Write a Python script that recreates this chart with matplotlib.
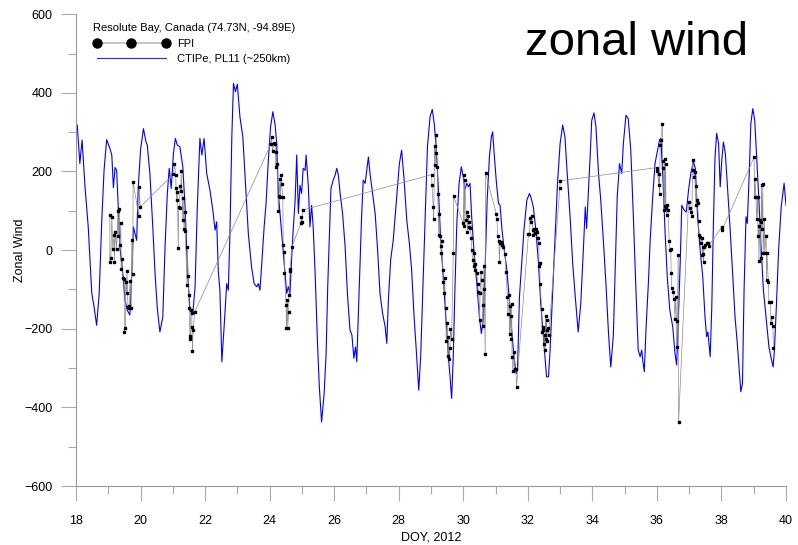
import numpy as np
import matplotlib
matplotlib.use("Agg")
import matplotlib.pyplot as plt
from matplotlib.lines import Line2D

plt.rcParams['font.family'] = ['Liberation Sans', 'DejaVu Sans']

# CTIPe model, PL11 (~250km): DOY and zonal wind
ctipe_doy = [
    18.04, 18.12, 18.19, 18.28, 18.38, 18.49, 18.56, 18.64, 18.72, 18.80, 18.87, 18.95,
    19.05, 19.11, 19.16, 19.21, 19.26, 19.31, 19.36, 19.45, 19.52, 19.59, 19.67, 19.73,
    19.78, 19.83, 19.88, 19.93, 20.00, 20.09, 20.17, 20.21, 20.29, 20.38, 20.45, 20.52,
    20.60, 20.69, 20.76, 20.83, 20.89, 20.95, 21.02, 21.08, 21.14, 21.22, 21.31, 21.38,
    21.45, 21.53, 21.62, 21.69, 21.76, 21.84, 21.90, 21.97, 22.05, 22.15, 22.24, 22.31,
    22.36, 22.41, 22.46, 22.52, 22.59, 22.67, 22.72, 22.77, 22.83, 22.88, 22.94, 23.00,
    23.08, 23.17, 23.27, 23.34, 23.44, 23.52, 23.60, 23.65, 23.70, 23.75, 23.83, 23.89,
    23.96, 24.03, 24.10, 24.17, 24.22, 24.27, 24.34, 24.41, 24.48, 24.53, 24.58, 24.63,
    24.68, 24.73, 24.79, 24.84, 24.89, 24.94, 24.99, 25.04, 25.10, 25.13, 25.20, 25.25,
    25.30, 25.35, 25.41, 25.48, 25.54, 25.61, 25.69, 25.75, 25.80, 25.85, 25.90, 25.97,
    26.03, 26.08, 26.13, 26.18, 26.26, 26.34, 26.41, 26.49, 26.55, 26.61, 26.66, 26.70,
    26.75, 26.80, 26.85, 26.90, 26.96, 27.01, 27.06, 27.11, 27.19, 27.27, 27.34, 27.42,
    27.50, 27.58, 27.63, 27.68, 27.75, 27.83, 27.92, 28.02, 28.09, 28.16, 28.25, 28.33,
    28.40, 28.47, 28.56, 28.62, 28.68, 28.74, 28.81, 28.89, 28.97, 29.04, 29.10, 29.16,
    29.23, 29.30, 29.38, 29.47, 29.54, 29.59, 29.64, 29.69, 29.74, 29.80, 29.87, 29.94,
    30.00, 30.05, 30.11, 30.16, 30.21, 30.26, 30.33, 30.42, 30.50, 30.56, 30.62, 30.68,
    30.74, 30.81, 30.87, 30.91, 30.95, 31.02, 31.09, 31.14, 31.20, 31.26, 31.35, 31.43,
    31.50, 31.57, 31.64, 31.68, 31.74, 31.81, 31.88, 31.97, 32.05, 32.09, 32.17, 32.25,
    32.33, 32.40, 32.48, 32.53, 32.58, 32.64, 32.69, 32.77, 32.84, 32.92, 33.00, 33.08,
    33.15, 33.22, 33.31, 33.39, 33.47, 33.56, 33.64, 33.72, 33.78, 33.82, 33.87, 33.93,
    33.98, 34.05, 34.11, 34.19, 34.26, 34.34, 34.42, 34.50, 34.57, 34.65, 34.70, 34.77,
    34.84, 34.91, 34.96, 35.04, 35.11, 35.19, 35.27, 35.35, 35.42, 35.48, 35.53, 35.56,
    35.61, 35.66, 35.74, 35.79, 35.87, 35.94, 36.01, 36.08, 36.12, 36.18, 36.25, 36.32,
    36.40, 36.49, 36.56, 36.61, 36.66, 36.72, 36.77, 36.84, 36.91, 36.98, 37.05, 37.13,
    37.19, 37.26, 37.34, 37.42, 37.49, 37.54, 37.58, 37.65, 37.70, 37.75, 37.80, 37.85,
    37.91, 37.96, 38.01, 38.06, 38.12, 38.19, 38.27, 38.35, 38.42, 38.49, 38.55, 38.60,
    38.65, 38.70, 38.76, 38.80, 38.86, 38.91, 38.97, 39.03, 39.09, 39.16, 39.22, 39.30,
    39.39, 39.47, 39.53, 39.60, 39.64, 39.70, 39.77, 39.85, 39.94, 40.00,
]
ctipe_wind = [
    318, 220, 280, 161, 59, -110, -144, -191, -110, 76, 203, 281,
    259, 242, 159, 210, 203, 110, 8, -59, -127, -153, -165, -59,
    59, 42, 25, 161, 254, 309, 275, 267, 195, 59, -59, -148,
    -208, -170, 8, 144, 208, 157, 246, 284, 267, 263, 212, 110,
    -42, -153, -161, -93, 110, 284, 242, 284, 195, 153, 102, 51,
    72, -55, -102, -284, -195, -85, -102, 42, 292, 424, 403, 422,
    339, 288, 144, 42, -42, -85, -93, -85, -102, -42, 59, 119,
    229, 314, 352, 318, 271, 144, 76, 8, -59, -110, -93, -110,
    -25, 51, 127, 242, 93, 165, 144, 208, 203, 242, 161, 59,
    114, 59, -59, -229, -348, -437, -364, -263, -93, 34, 157, 178,
    191, 208, 191, 148, 93, 8, -110, -203, -216, -275, -246, -284,
    -161, -42, 85, 178, 170, 203, 237, 195, 144, 93, 8, -110,
    -161, -195, -237, -127, -25, 25, 119, 220, 254, 186, 76, 17,
    -50, -161, -275, -356, -271, -119, 59, 263, 339, 358, 322, 263,
    153, 25, -68, -186, -271, -322, -377, -271, -102, 68, 170, 212,
    186, 153, 170, 161, 170, 85, 0, -85, -170, -212, -178, -34,
    127, 237, 288, 301, 254, 178, 119, 114, 51, 8, -51, -127,
    -203, -271, -314, -305, -119, -34, 51, 127, 144, 136, 110, 51,
    -34, -136, -220, -271, -322, -322, -254, -102, 25, 170, 271, 318,
    288, 195, 85, -34, -119, -208, -136, 0, 110, 55, 136, 237,
    330, 349, 314, 195, 127, 25, -85, -212, -297, -216, -68, 136,
    220, 195, 271, 343, 335, 254, 85, -102, -254, -271, -254, -280,
    -309, -203, -76, 25, 136, 220, 250, 280, 284, 195, 51, -68,
    -153, -195, -263, -292, -186, -34, 114, 102, 97, 153, 195, 225,
    208, 85, 0, -68, -170, -220, -208, -271, -144, 68, 237, 297,
    271, 161, 229, 275, 246, 153, 51, -68, -170, -237, -305, -360,
    -339, -102, 85, 68, 195, 322, 360, 330, 237, 127, 17, -102,
    -178, -246, -271, -297, -254, -144, 0, 110, 170, 114,
]

# FPI observations
fpi_doy = [
    19.05, 19.11, 19.14, 19.05, 19.08, 19.18, 19.19, 19.22, 19.26, 19.31, 19.30, 19.34,
    19.36, 19.39, 19.44, 19.40, 19.45, 19.49, 19.54, 19.58, 19.57, 19.61, 19.63, 19.67,
    19.65, 19.71, 19.50, 19.53, 19.73, 19.76, 19.77, 19.96, 19.95, 19.99,
    21.05, 21.02, 21.09, 21.10, 21.14, 21.12, 21.26, 21.22, 21.25, 21.18, 21.21, 21.32,
    21.31, 21.37, 21.35, 21.39, 21.17, 21.45, 21.48, 21.44, 21.50, 21.51, 21.56, 21.59,
    21.68, 21.53, 21.54, 21.59, 21.63, 21.61,
    24.06, 24.04, 24.09, 24.14, 24.17, 24.20, 24.23, 24.19, 24.36, 24.32, 24.37, 24.29,
    24.33, 24.41, 24.27, 24.42, 24.45, 24.46, 24.63, 24.64, 24.68, 24.51, 24.55, 24.60,
    24.59, 24.52, 24.56, 24.97, 25.00, 24.98, 25.03,
    29.02, 29.03, 29.07, 29.08, 29.16, 29.12, 29.17, 29.13, 29.20, 29.21, 29.25, 29.24,
    29.28, 29.30, 29.32, 29.33, 29.36, 29.42, 29.38, 29.41, 29.46, 29.47, 29.51, 29.54,
    29.52, 29.57, 29.60, 29.59, 29.64, 29.69, 29.70,
    30.00, 30.03, 30.02, 30.05, 30.11, 30.15, 30.09, 30.17, 30.13, 30.18, 30.21, 30.25,
    30.26, 30.29, 30.33, 30.32, 30.37, 30.36, 30.42, 30.45, 30.55, 30.57, 30.47, 30.52,
    30.64, 30.65, 30.60, 30.51, 30.61, 30.68, 30.69,
    31.02, 31.04, 31.07, 31.10, 31.12, 31.14, 31.16, 31.19, 31.23, 31.30, 31.32, 31.37,
    31.38, 31.43, 31.45, 31.47, 31.44, 31.48, 31.50, 31.51, 31.54, 31.58, 31.60, 31.63,
    31.65,
    32.02, 32.05, 32.07, 32.12, 32.09, 32.15, 32.19, 32.22, 32.17, 32.25, 32.29, 32.33,
    32.34, 32.37, 32.35, 32.38, 32.43, 32.48, 32.46, 32.44, 32.52, 32.50, 32.55, 32.58,
    32.60, 32.57, 32.59, 32.64, 32.65, 32.53, 33.00, 32.99,
    35.99, 36.01, 36.06, 36.08, 36.07, 36.10, 36.12, 36.17, 36.18, 36.24, 36.27, 36.20,
    36.25, 36.22, 36.28, 36.32, 36.34, 36.30, 36.38, 36.40, 36.43, 36.44, 36.46, 36.50,
    36.53, 36.58, 36.56, 36.61, 36.62, 36.66, 36.67,
    36.98, 37.03, 37.06, 37.08, 37.11, 37.13, 37.17, 37.16, 37.23, 37.21, 37.26, 37.22,
    37.29, 37.30, 37.34, 37.36, 37.40, 37.42, 37.44, 37.46, 37.41, 37.45, 37.49, 37.54,
    37.57, 37.60, 38.01, 38.02,
    39.01, 39.04, 39.03, 39.07, 39.12, 39.09, 39.13, 39.15, 39.18, 39.24, 39.28, 39.23,
    39.26, 39.16, 39.21, 39.29, 39.33, 39.38, 39.34, 39.41, 39.40, 39.45, 39.47, 39.52,
    39.55, 39.53, 39.59, 39.61,
]
fpi_wind = [
    89, 85, 4, -30, -21, 38, -31, 47, 4, 36, 99, 104,
    14, 68, -23, -49, -70, -73, -80, -53, -108, -144, -142, -79,
    -148, -147, -209, -197, 27, -61, 174, 160, 86, 110,
    219, 193, 192, 158, 148, 127, 201, 163, 151, 110, 108, 132,
    77, 97, 53, 49, 5, 8, -66, -88, -114, -148, -153, -161,
    -157, -219, -227, -195, -202, -257,
    288, 270, 252, 273, 270, 250, 220, 212, 192, 180, 168, 137,
    136, 134, 99, 13, -5, -59, -49, -52, 7, -140, -127, -113,
    -158, -198, -199, 68, 72, 85, 102,
    192, 165, 110, 78, 294, 264, 247, 216, 212, 144, 92, 38,
    37, 10, -7, 24, -51, -72, -81, -110, -146, -231, -186, -220,
    -270, -278, -200, -248, -225, -8, 137,
    68, 62, 191, 178, 97, 88, 76, 72, 47, 59, 57, 32,
    0, -25, -8, -41, -36, -51, -58, -85, -55, -76, -106, -108,
    -41, -100, -140, -178, -192, -264, 197,
    93, 80, 36, 24, -30, 17, 21, 13, 8, -10, -55, -119,
    -163, -114, -142, -168, -213, -225, -136, -271, -307, -259, -303, -301,
    -348,
    42, 40, 82, 86, 72, 51, 53, 44, 38, 53, 45, 30,
    17, -32, -40, -87, -149, -195, -203, -209, -216, -239, -168, -178,
    -202, -225, -231, -197, -215, -253, 176, 158,
    210, 202, 165, 142, 193, 267, 280, 322, 227, 233, 220, 208,
    112, 102, 106, 114, 103, 89, 24, 0, 4, -58, -95, -106,
    -125, -119, -176, -180, -247, -12, -438,
    123, 106, 97, 86, 229, 203, 199, 185, 127, 114, 119, 163,
    75, 38, 34, 19, 30, 8, -10, 7, -13, -30, 13, 17,
    19, 10, 59, 51,
    236, 182, 136, 134, 134, 80, 36, 61, 76, 165, 168, 72,
    53, -27, -21, -8, 80, 36, -7, -8, -75, -80, -131, -131,
    -170, -186, -193, -248,
]

order = np.argsort(fpi_doy, kind='stable')
fpi_x = np.asarray(fpi_doy)[order]
fpi_y = np.asarray(fpi_wind)[order]

fig = plt.figure(figsize=(7.98, 5.45), dpi=100)
ax = fig.add_axes([0.0952, 0.108, 0.8898, 0.866])

ax.plot(ctipe_doy, ctipe_wind, color='#0000ff', lw=0.8, zorder=2)
ax.plot(fpi_x, fpi_y, color='#8c8c8c', lw=0.5, zorder=3)
ax.plot(fpi_x, fpi_y, ls='none', marker='s', ms=1.6, color='black', zorder=4)

ax.set_xlim(18, 40)
ax.set_ylim(-600, 600)
ax.set_xticks(np.arange(18, 41, 2))
ax.set_xticks(np.arange(19, 40, 2), minor=True)
ax.set_yticks(np.arange(-600, 601, 200))
ax.set_yticks(np.arange(-500, 501, 200), minor=True)

for side in ('top', 'right'):
    ax.spines[side].set_visible(False)
for side in ('left', 'bottom'):
    ax.spines[side].set_color('#999999')
    ax.spines[side].set_linewidth(0.8)
ax.tick_params(which='major', length=11, width=0.8, color='#aaaaaa', labelsize=9)
ax.tick_params(which='minor', length=6, width=0.8, color='#aaaaaa')
ax.tick_params(axis='x', which='major', pad=10)
ax.tick_params(axis='y', which='major', pad=6)

ax.set_xlabel('DOY, 2012', fontsize=9, labelpad=3)
ax.set_ylabel('Zonal Wind', fontsize=9)
ax.yaxis.set_label_coords(-0.0705, 0.5)

ax.text(0.946, 0.938, 'zonal wind', transform=ax.transAxes, fontsize=34,
        ha='right', va='center')

handles = [
    Line2D([], [], color='#bbbbbb', lw=1.2, marker='o', ms=6.5,
           markerfacecolor='black', markeredgecolor='black'),
    Line2D([], [], color='#3333ff', lw=0.9),
]
leg = ax.legend(handles, ['FPI', 'CTIPe, PL11 (~250km)'],
                title='Resolute Bay, Canada (74.73N, -94.89E)',
                loc='upper left', bbox_to_anchor=(0.0244, 0.981), frameon=False,
                fontsize=8, title_fontsize=8, numpoints=3, handlelength=6.85,
                handletextpad=0.7, alignment='left', labelspacing=0.5,
                borderaxespad=0.0, borderpad=0.0)

fig.savefig('out.png', dpi=100)
